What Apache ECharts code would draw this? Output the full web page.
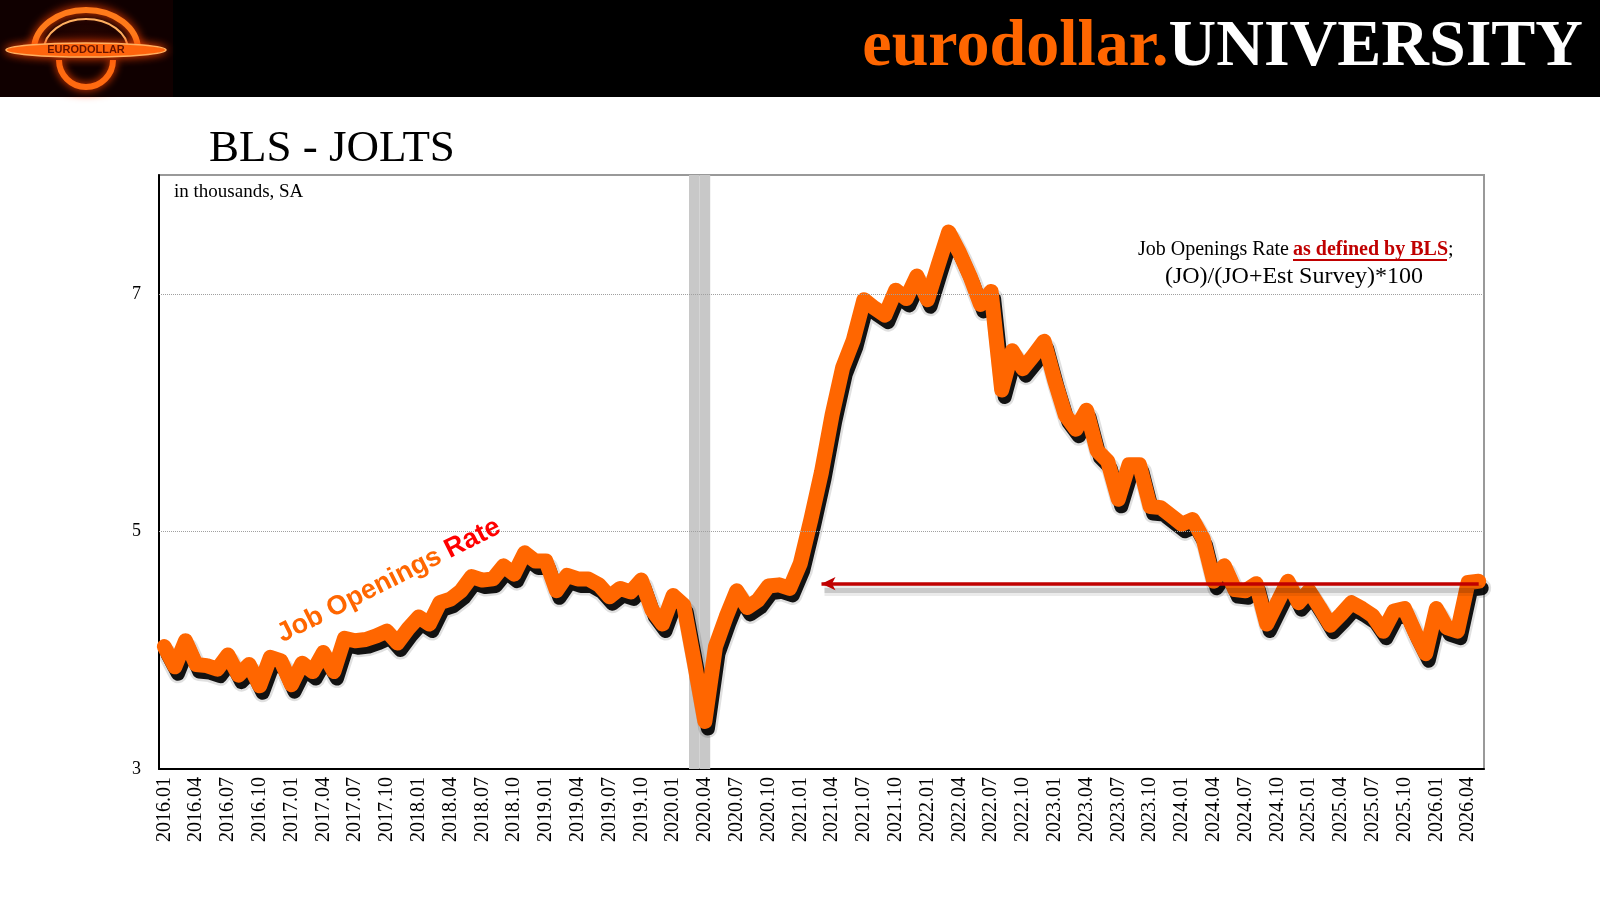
<!DOCTYPE html>
<html lang="en">
<head>
    <meta charset="UTF-8">
    <title>BLS - JOLTS</title>
    <style>
        html, body { margin: 0; padding: 0; background: #fff; }
        #main { width: 1600px; height: 900px; }
    </style>
</head>
<body>
    <div id="main"></div>
    <script src="https://cdn.jsdelivr.net/npm/echarts@6/dist/echarts.min.js"></script>
    <script>
        // monthly labels 2016.01 .. 2026.05
        var startYear = 2016;
        var monthCount = 125;
        var categories = [];
        for (var i = 0; i < monthCount; i++) {
            var y = startYear + Math.floor(i / 12);
            var m = (i % 12) + 1;
            categories.push(y + '.' + (m < 10 ? '0' + m : m));
        }

        // job openings rate
        var openingsRate = [
            4.03, 3.86, 4.08, 3.88, 3.87, 3.84, 3.96, 3.79, 3.88, 3.70, 3.94, 3.91, // 2016
            3.71, 3.89, 3.82, 3.98, 3.82, 4.10, 4.08, 4.09, 4.12, 4.16, 4.06, 4.18, // 2017
            4.28, 4.22, 4.40, 4.43, 4.50, 4.62, 4.59, 4.60, 4.71, 4.64, 4.82, 4.75, // 2018
            4.75, 4.50, 4.63, 4.60, 4.60, 4.55, 4.45, 4.52, 4.49, 4.59, 4.34, 4.22, // 2019
            4.46, 4.38, 3.90, 3.40, 4.03, 4.28, 4.50, 4.36, 4.42, 4.54, 4.55, 4.52, // 2020
            4.73, 5.10, 5.50, 5.98, 6.38, 6.61, 6.95, 6.88, 6.82, 7.03, 6.96, 7.15, // 2021
            6.95, 7.24, 7.52, 7.35, 7.15, 6.91, 7.02, 6.19, 6.52, 6.37, 6.48, 6.60, // 2022
            6.27, 5.98, 5.86, 6.02, 5.68, 5.59, 5.27, 5.56, 5.56, 5.21, 5.20, 5.13, // 2023
            5.06, 5.10, 4.94, 4.58, 4.71, 4.51, 4.50, 4.56, 4.22, 4.40, 4.58, 4.40, // 2024
            4.50, 4.36, 4.21, 4.30, 4.40, 4.35, 4.29, 4.16, 4.33, 4.35, 4.15, 3.97, // 2025
            4.35, 4.19, 4.16, 4.57, 4.58                                            // 2026
        ];

        var recessionMonths = ['2020.03', '2020.04'];
        var yTickLabels = [3, 5, 7];
        var gridLevels = [5, 7];
        var arrowLevel = 4.56;
        var arrowFrom = '2021.03';
        var arrowTo = '2026.05';

        var recessionData = categories.map(function (c) {
            return recessionMonths.indexOf(c) >= 0 ? 8 : null;
        });

        var serif = "'Liberation Serif', 'Times New Roman', serif";
        var sans = "'Liberation Sans', Arial, sans-serif";

        // place text by its baseline (canvas 'middle' sits ~0.34em above it)
        function mid(baseline, size) {
            return baseline - 0.34 * size;
        }

        // main plot box, and a copy nudged down-right that carries the drop shadow
        var plot = { left: 159, right: 116, top: 175, bottom: 131 };
        var shadowShift = { x: 3, y: 7 };

        function hiddenX(idx) {
            return { type: 'category', gridIndex: idx, data: categories, boundaryGap: true, show: false };
        }
        function hiddenY(idx) {
            return { type: 'value', gridIndex: idx, min: 3, max: 8, interval: 1, show: false, splitLine: { show: false } };
        }

        var option = {
            backgroundColor: '#fff',
            animation: false,
            grid: [{
                left: plot.left,
                right: plot.right,
                top: plot.top,
                bottom: plot.bottom,
                show: true,
                borderColor: '#999',
                borderWidth: 2,
                backgroundColor: 'transparent'
            }, {
                left: plot.left + shadowShift.x,
                right: plot.right - shadowShift.x,
                top: plot.top + shadowShift.y,
                bottom: plot.bottom - shadowShift.y,
                show: false
            }],
            xAxis: [{
                type: 'category',
                data: categories,
                boundaryGap: true,
                axisLine: { lineStyle: { color: '#000', width: 2 } },
                axisTick: { interval: 2, length: 6, lineStyle: { color: '#000', width: 1.5 } },
                axisLabel: {
                    interval: 2,
                    rotate: 90,
                    margin: 8,
                    fontFamily: serif,
                    fontSize: 20,
                    color: '#000'
                },
                splitLine: { show: false }
            }, hiddenX(1)],
            yAxis: [{
                type: 'value',
                min: 3,
                max: 8,
                interval: 1,
                axisLine: { show: true, lineStyle: { color: '#000', width: 2 } },
                axisTick: { show: false },
                splitLine: { show: false },
                axisLabel: {
                    margin: 18,
                    fontFamily: serif,
                    fontSize: 18,
                    color: '#000',
                    formatter: function (v) {
                        return yTickLabels.indexOf(v) >= 0 ? String(v) : '';
                    }
                }
            }, hiddenY(1)],
            series: [{
                name: 'recession',
                type: 'bar',
                data: recessionData,
                barWidth: '100%',
                barCategoryGap: '0%',
                silent: true,
                z: 1,
                itemStyle: { color: '#c8c8c8' },
                markLine: {
                    silent: true,
                    symbol: 'none',
                    label: { show: false },
                    lineStyle: { color: '#a0a0a0', type: 'dotted', width: 1 },
                    data: gridLevels.map(function (v) { return { yAxis: v }; })
                }
            }, {
                // soft outer edge of the drop shadow
                name: 'shadow-soft',
                type: 'line',
                xAxisIndex: 1,
                yAxisIndex: 1,
                data: openingsRate,
                symbol: 'none',
                silent: true,
                z: 2,
                lineStyle: { color: 'rgba(0,0,0,0.12)', width: 19, cap: 'round', join: 'round' },
                markLine: {
                    silent: true,
                    z: 9,
                    symbol: 'none',
                    label: { show: false },
                    lineStyle: { color: 'rgba(0,0,0,0.08)', width: 11, type: 'solid' },
                    data: [[
                        { coord: [arrowFrom, arrowLevel] },
                        { coord: [arrowTo, arrowLevel] }
                    ]]
                }
            }, {
                name: 'shadow',
                type: 'line',
                xAxisIndex: 1,
                yAxisIndex: 1,
                data: openingsRate,
                symbol: 'none',
                silent: true,
                z: 2,
                lineStyle: { color: 'rgba(0,0,0,0.92)', width: 14, cap: 'round', join: 'round' },
                markLine: {
                    silent: true,
                    z: 9,
                    symbol: 'none',
                    label: { show: false },
                    lineStyle: { color: 'rgba(0,0,0,0.14)', width: 5, type: 'solid' },
                    data: [[
                        { coord: [arrowFrom, arrowLevel] },
                        { coord: [arrowTo, arrowLevel] }
                    ]]
                }
            }, {
                name: 'Job Openings Rate',
                type: 'line',
                data: openingsRate,
                symbol: 'none',
                z: 3,
                lineStyle: {
                    color: '#ff6600',
                    width: 15,
                    cap: 'round',
                    join: 'round'
                },
                markLine: {
                    silent: true,
                    z: 10,
                    symbolSize: [10, 14],
                    label: { show: false },
                    lineStyle: { color: '#c00000', width: 3.5, type: 'solid' },
                    data: [[
                        { coord: [arrowFrom, arrowLevel], symbol: 'arrow' },
                        { coord: [arrowTo, arrowLevel], symbol: 'none' }
                    ]]
                }
            }],
            graphic: [
                // header band
                { type: 'rect', shape: { x: 0, y: 0, width: 1600, height: 97 }, style: { fill: '#000' }, z: 0 },
                // logo
                {
                    type: 'rect', shape: { x: 0, y: 0, width: 173, height: 97 },
                    style: {
                        fill: {
                            type: 'radial', x: 0.5, y: 0.5, r: 0.6,
                            colorStops: [{ offset: 0, color: '#2a0500' }, { offset: 1, color: '#100000' }]
                        }
                    }
                },
                { type: 'ellipse', shape: { cx: 86, cy: 50, rx: 52, ry: 40 }, style: { stroke: '#ff7a1a', lineWidth: 6, fill: null, shadowColor: '#ff4400', shadowBlur: 10 } },
                { type: 'ellipse', shape: { cx: 86, cy: 50, rx: 42, ry: 31 }, style: { stroke: '#ffb060', lineWidth: 2, fill: null } },
                { type: 'rect', shape: { x: 20, y: 54, width: 132, height: 43 }, style: { fill: '#100000' } },
                { type: 'arc', shape: { cx: 86, cy: 60, r: 27, startAngle: 0, endAngle: Math.PI }, style: { stroke: '#ff6a10', lineWidth: 6, fill: null, shadowColor: '#ff4400', shadowBlur: 8 } },
                { type: 'ellipse', shape: { cx: 86, cy: 50, rx: 80, ry: 7 }, style: { fill: '#ff6a10', stroke: '#ffb060', lineWidth: 1.5, shadowColor: '#ff4400', shadowBlur: 10 } },
                { type: 'text', x: 86, y: 50, style: { text: 'EURODOLLAR', font: 'bold 11px ' + sans, fill: '#6a1500', align: 'center', verticalAlign: 'middle' } },
                // brand
                {
                    type: 'text', x: 1583, y: mid(70, 66),
                    style: {
                        text: '{a|eurodollar.}{b|UNIVERSITY}',
                        align: 'right',
                        verticalAlign: 'middle',
                        rich: {
                            a: { font: 'bold 66px ' + serif, fill: '#ff6600' },
                            b: { font: 'bold 66px ' + serif, fill: '#ffffff' }
                        }
                    }
                },
                // title
                { type: 'text', x: 209, y: mid(164, 45), style: { text: 'BLS - JOLTS', font: '45px ' + serif, fill: '#000', align: 'left', verticalAlign: 'middle' } },
                { type: 'text', x: 174, y: mid(198, 19), style: { text: 'in thousands, SA', font: '19px ' + serif, fill: '#000', align: 'left', verticalAlign: 'middle' } },
                // definition note
                { type: 'text', x: 1289, y: mid(257, 20), style: { text: 'Job Openings Rate', font: '20px ' + serif, fill: '#000', align: 'right', verticalAlign: 'middle' } },
                { type: 'text', x: 1293, y: mid(257, 20), style: { text: 'as defined by BLS', font: 'bold 20px ' + serif, fill: '#c00000', align: 'left', verticalAlign: 'middle' } },
                { type: 'text', x: 1448, y: mid(257, 20), style: { text: ';', font: '20px ' + serif, fill: '#000', align: 'left', verticalAlign: 'middle' } },
                { type: 'line', shape: { x1: 1293, y1: 260, x2: 1447, y2: 260 }, style: { stroke: '#c00000', lineWidth: 2 } },
                { type: 'text', x: 1294, y: mid(285, 24), style: { text: '(JO)/(JO+Est Survey)*100', font: '24px ' + serif, fill: '#000', align: 'center', verticalAlign: 'middle' } },
                // series label
                {
                    type: 'text', x: 285, y: 648, rotation: 0.466, z: 20,
                    style: {
                        text: '{a|Job Openings }{b|Rate}',
                        align: 'left',
                        verticalAlign: 'bottom',
                        rich: {
                            a: { font: 'bold 27px ' + sans, fill: '#ff6600' },
                            b: { font: 'bold 27px ' + sans, fill: '#ff0000' }
                        }
                    }
                }
            ]
        };

        var myChart = echarts.init(document.getElementById('main'));
        myChart.setOption(option);
    </script>
</body>
</html>
